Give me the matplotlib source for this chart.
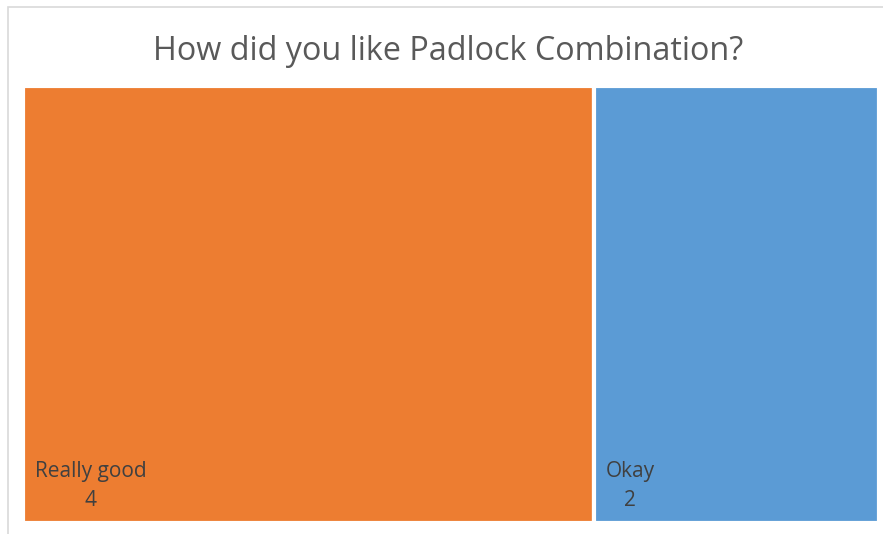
import matplotlib
matplotlib.use('Agg')
import matplotlib.pyplot as plt
from matplotlib.patches import Rectangle
import matplotlib.transforms as mtransforms

# Treemap: How did you like Padlock Combination?
categories = ['Really good', 'Okay']
counts = [4, 2]
colors = ['#ED7D31', '#5B9BD5']
title = 'How did you like Padlock Combination?'

W, H = 883, 534
fig = plt.figure(figsize=(W / 100, H / 100), dpi=100)
plt.rcParams['font.family'] = ['Open Sans', 'DejaVu Sans']

# light frame around the chart area (top and left visible)
fig.patches.append(Rectangle((8 / W, -0.1), 1.2, 527 / H + 0.1, transform=fig.transFigure,
                             fill=False, edgecolor='#d9d9d9', lw=1.2))

# plot area in pixels: x 23..879, y 86..523 (white edge eats ~2px)
ax = fig.add_axes([23 / W, 11 / H, 856 / W, 437 / H])
ax.set_xlim(0, sum(counts))
ax.set_ylim(0, 1)
ax.axis('off')

left = 0
for cat, n, c in zip(categories, counts, colors):
    ax.bar(left, 1, width=n, bottom=0, align='edge', color=c, edgecolor='white', linewidth=3)
    tr = mtransforms.offset_copy(ax.transData, fig=fig, x=12, y=12, units='dots')
    ax.text(left, 0, f'{cat}\n{n}', transform=tr, ha='left', va='bottom',
            multialignment='center', fontsize=15, color='#404040', linespacing=1.5)
    left += n

fig.text(0.508, 1 - 51 / H, title, ha='center', va='center', fontsize=23.3, color='#595959')

fig.savefig('out.png', dpi=100)
